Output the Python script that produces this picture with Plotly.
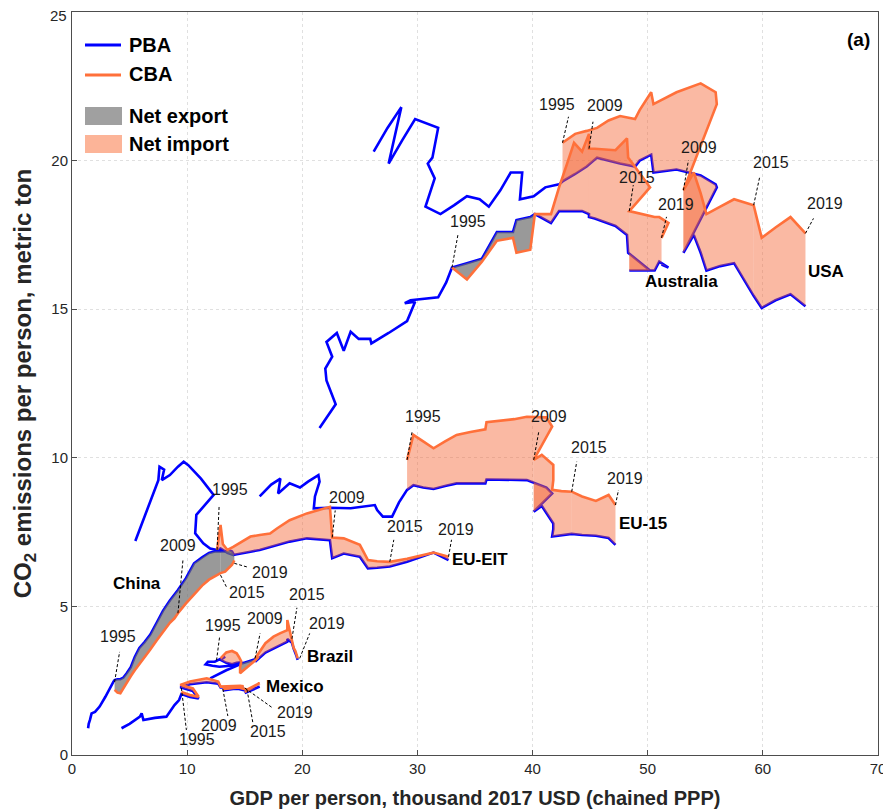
import plotly.graph_objects as go

YEARS = list(range(1995, 2020))

# ---------------- data (GDP thousand 2017 USD, CO2 t per person) ----------------
USA_GDP = [42.6, 43.7, 44.7, 45.6, 46.6, 47.6, 48.9, 49.3, 50.3, 50.5, 52.5, 54.6, 55.9, 56.0,
           53.1, 54.0, 54.6, 55.1, 56.3, 57.5, 59.2, 59.9, 61.1, 62.4, 63.7]
USA_PBA = [19.3, 19.55, 19.8, 20.1, 20.0, 19.9, 19.8, 20.0, 20.2, 19.6, 19.7, 19.5, 19.2, 19.1,
           16.9, 17.5, 16.9, 16.3, 16.45, 16.55, 15.45, 15.04, 15.3, 15.5, 15.1]
USA_CBA = [20.6, 20.9, 21.0, 21.1, 21.35, 21.5, 21.4, 21.7, 22.3, 21.9, 22.3, 22.6, 22.3, 21.9,
           19.0, 19.6, 18.9, 18.2, 18.45, 18.7, 18.5, 17.4, 17.75, 18.1, 17.55]
USA_HIST_GDP = [26.2, 27.4, 28.6, 27.5, 28.7, 29.8, 31.8, 31.3, 30.9, 31.5, 30.7, 32.0, 33.2, 34.3,
                35.4, 36.2, 37.2, 38.1, 39.1, 38.9, 40.1, 41.1, 42.3]
USA_HIST_PBA = [20.3, 21.1, 21.8, 19.9, 20.7, 21.4, 21.1, 20.1, 19.9, 19.4, 18.45, 18.2, 18.5, 18.8,
                18.7, 18.45, 19.0, 19.6, 19.6, 18.7, 18.8, 19.1, 19.2]

AUS_GDP = [33.0, 34.3, 35.6, 36.9, 38.3, 38.6, 39.8, 40.2, 41.6, 42.3, 43.0, 43.6, 44.3, 44.9,
           44.9, 45.4, 47.2, 48.2, 48.3, 50.2, 48.4, 50.6, 51.0, 51.8, 51.2]
AUS_PBA = [16.4, 16.55, 16.7, 17.6, 17.6, 18.0, 18.1, 18.2, 17.9, 18.3, 18.3, 18.3, 18.3, 18.2,
           18.1, 18.05, 17.8, 17.5, 16.9, 16.3, 16.3, 16.3, 16.6, 16.4, 16.5]
AUS_CBA = [16.4, 16.0, 16.6, 17.3, 17.4, 16.9, 17.0, 18.2, 18.2, 19.1, 19.9, 20.6, 20.3, 20.9,
           20.4, 20.4, 20.35, 20.75, 20.1, 19.1, 18.3, 18.1, 18.1, 17.9, 17.4]
AUS_HIST_GDP = [21.5, 22.9, 22.1, 22.0, 22.6, 22.1, 23.0, 23.6, 24.2, 24.9, 25.9, 26.0, 27.5, 29.1,
                29.8, 28.9, 29.4, 31.8, 32.5]
AUS_HIST_PBA = [11.0, 11.8, 12.6, 13.0, 13.4, 13.9, 14.2, 13.6, 14.24, 14.0, 14.0, 13.85, 14.2, 14.6,
                15.25, 15.2, 15.3, 15.4, 15.9]

EU15_GDP = [29.1, 29.65, 30.5, 31.4, 32.4, 33.4, 34.6, 35.9, 36.0, 37.2, 38.4, 39.5, 41.2, 41.7,
            40.1, 40.8, 41.8, 41.8, 41.7, 42.5, 43.4, 44.3, 45.5, 46.6, 47.2]
EU15_PBA = [8.92, 9.08, 9.0, 8.95, 9.05, 9.14, 9.14, 9.14, 9.27, 9.27, 9.26, 9.25, 9.0, 8.8,
            8.19, 8.38, 7.79, 7.6, 7.35, 7.4, 7.44, 7.4, 7.38, 7.3, 7.07]
EU15_CBA = [9.93, 10.77, 10.55, 10.32, 10.55, 10.77, 10.87, 10.96, 11.2, 11.25, 11.3, 11.38, 11.36, 11.05,
            9.93, 10.1, 9.76, 9.25, 8.92, 8.88, 8.86, 8.7, 8.55, 8.75, 8.41]
EU15_HIST_GDP = [16.3, 17.3, 18.1, 17.9, 18.9, 19.8, 20.5, 21.4, 21.5, 21.1, 21.0, 22.4, 24.2, 25.0,
                 26.3, 26.5, 27.0, 27.8, 28.4]
EU15_HIST_PBA = [8.7, 9.1, 9.3, 8.8, 9.14, 9.0, 9.2, 9.42, 9.2, 8.7, 8.3, 8.32, 8.3, 8.35,
                 8.41, 8.24, 8.02, 8.02, 8.5]

EIT_GDP = [12.6, 12.9, 13.1, 13.5, 14.0, 14.8, 15.5, 16.3, 17.2, 17.8, 18.9, 20.4, 21.4, 22.4,
           22.6, 23.6, 25.0, 25.7, 26.5, 27.2, 27.6, 29.1, 30.3, 31.4, 32.7]
EIT_PBA = [6.9, 6.95, 6.9, 6.8, 6.73, 6.8, 6.84, 6.9, 7.0, 7.07, 7.18, 7.29, 7.27, 7.23,
           6.62, 6.78, 6.67, 6.28, 6.3, 6.33, 6.34, 6.5, 6.65, 6.81, 6.56]
EIT_CBA = [6.9, 7.74, 7.1, 6.9, 7.0, 7.2, 7.35, 7.4, 7.45, 7.62, 7.9, 8.13, 8.25, 8.35,
           7.32, 7.29, 7.07, 6.56, 6.52, 6.5, 6.5, 6.6, 6.72, 6.81, 6.67]
EIT_HIST_GDP = [5.5, 6.0, 6.5, 7.1, 7.5, 7.6, 8.0, 7.8, 8.5, 9.2, 9.7, 10.1, 11.2, 12.3, 11.5,
                10.8, 10.7, 11.4, 12.0]
EIT_HIST_PBA = [7.2, 7.7, 8.2, 8.8, 9.25, 9.7, 9.6, 9.25, 9.42, 9.7, 9.87, 9.75, 9.3, 8.75, 8.4,
                8.08, 7.46, 7.12, 6.95]

CHN_GDP = [3.7, 3.95, 4.2, 4.45, 4.75, 5.1, 5.45, 5.85, 6.3, 6.8, 7.35, 7.9, 8.5, 8.9,
           9.2, 9.9, 10.6, 11.3, 11.9, 12.4, 12.9, 13.3, 13.6, 13.9, 14.1]
CHN_PBA = [2.52, 2.55, 2.55, 2.6, 2.75, 2.95, 3.3, 3.6, 3.8, 4.05, 4.45, 4.85, 5.2, 5.4,
           5.55, 5.95, 6.45, 6.65, 6.8, 6.85, 6.85, 6.85, 6.9, 6.85, 6.7]
CHN_CBA = [2.19, 2.1, 2.08, 2.25, 2.45, 2.65, 2.85, 3.05, 3.3, 3.55, 3.85, 4.15, 4.45, 4.6,
           4.77, 5.1, 5.4, 5.7, 5.9, 6.0, 6.12, 6.17, 6.3, 6.4, 6.55]
CHN_HIST_GDP = [1.4, 1.45, 1.56, 1.7, 2.0, 2.4, 2.9, 3.4, 3.6]
CHN_HIST_PBA = [0.9, 1.05, 1.18, 1.4, 1.45, 1.63, 1.96, 2.36, 2.47]

BRA_GDP = [12.9, 13.4, 13.9, 14.3, 14.5, 14.7, 14.6, 14.6, 14.9, 15.2, 15.4, 15.6, 15.9, 16.2,
           15.9, 16.8, 17.5, 18.1, 18.7, 18.7, 19.1, 19.25, 19.4, 19.5, 19.6]
BRA_PBA = [3.2, 3.1, 3.05, 3.1, 3.12, 3.12, 3.1, 3.08, 3.1, 3.13, 3.15, 3.18, 3.22, 3.28,
           3.14, 3.45, 3.58, 3.7, 3.81, 3.9, 3.78, 3.58, 3.45, 3.33, 3.2]
BRA_CBA = [3.25, 3.45, 3.5, 3.42, 3.3, 3.15, 2.95, 2.75, 2.85, 2.95, 3.0, 3.08, 3.18, 3.3,
           3.25, 3.76, 3.98, 4.1, 4.2, 4.54, 3.81, 3.6, 3.5, 3.38, 3.25]
BRA_HIST_GDP = [12.0, 12.6, 13.4, 14.0, 14.6, 14.2, 13.5, 12.8, 12.2, 11.6, 11.8, 12.4, 13.3]
BRA_HIST_PBA = [2.58, 2.7, 2.85, 2.95, 3.05, 3.02, 3.0, 2.97, 3.0, 3.05, 3.14, 3.14, 3.31]

MEX_GDP = [9.5, 10.25, 11.0, 10.5, 9.4, 10.25, 11.7, 12.7, 12.9, 13.6, 14.0, 14.6, 14.9, 14.3,
           13.1, 13.6, 14.0, 14.5, 14.8, 15.0, 15.2, 15.7, 16.1, 16.3, 15.0]
MEX_PBA = [2.05, 1.95, 1.9, 2.15, 2.28, 2.38, 2.45, 2.4, 2.27, 2.27, 2.28, 2.28, 2.27, 2.25,
           2.17, 2.2, 2.22, 2.22, 2.2, 2.18, 2.16, 2.22, 2.28, 2.3, 2.08]
MEX_CBA = [2.12, 2.02, 1.96, 2.24, 2.36, 2.47, 2.58, 2.47, 2.3, 2.3, 2.32, 2.33, 2.31, 2.28,
           2.22, 2.25, 2.27, 2.27, 2.24, 2.22, 2.2, 2.3, 2.38, 2.42, 2.12]
MEX_HIST_GDP = [4.3, 5.0, 5.9, 6.05, 6.2, 7.2, 8.2, 8.9, 9.3]
MEX_HIST_PBA = [0.9, 1.05, 1.29, 1.4, 1.18, 1.25, 1.29, 1.68, 1.85]

X_TICKS = [0, 10, 20, 30, 40, 50, 60, 70]
Y_TICKS = [0, 5, 10, 15, 20, 25]

COUNTRIES = {
    "USA": (USA_GDP, USA_PBA, USA_CBA, USA_HIST_GDP, USA_HIST_PBA),
    "Australia": (AUS_GDP, AUS_PBA, AUS_CBA, AUS_HIST_GDP, AUS_HIST_PBA),
    "EU-15": (EU15_GDP, EU15_PBA, EU15_CBA, EU15_HIST_GDP, EU15_HIST_PBA),
    "EU-EIT": (EIT_GDP, EIT_PBA, EIT_CBA, EIT_HIST_GDP, EIT_HIST_PBA),
    "China": (CHN_GDP, CHN_PBA, CHN_CBA, CHN_HIST_GDP, CHN_HIST_PBA),
    "Brazil": (BRA_GDP, BRA_PBA, BRA_CBA, BRA_HIST_GDP, BRA_HIST_PBA),
    "Mexico": (MEX_GDP, MEX_PBA, MEX_CBA, MEX_HIST_GDP, MEX_HIST_PBA),
}

LABEL_YEARS = [1995, 2009, 2015, 2019]
# per country, per labelled year: (text dx, text dy, pointer start dx, dy, pointer end dx, dy) in pixels, y down
LABEL_OFFSETS = {
    "USA": {1995: (-6, -38, 6, -26, 0, 0), 2009: (16, -43, 5, -30, 0, 0),
            2015: (17, -43, 6, -28, 0, 0), 2019: (20, -30, 8, -15, 0, 0)},
    "Australia": {1995: (16, -46, 6, -33, 0, 0), 2009: (16, -43, 4, -27, 0, 0),
                  2015: (8, -34, 4, -26, 0, 0), 2019: (14, -33, 5, -21, 0, 0)},
    "EU-15": {1995: (16, -43, 5, -28, 0, 0), 2009: (15, -43, 5, -28, 0, 0),
              2015: (17, -44, 5, -30, 0, 0), 2019: (10, -27, 3, -15, 0, 0)},
    "EU-EIT": {1995: (13, -60, 2, -43, 0, 0), 2009: (15, -40, 3, -27, 0, 0),
               2015: (15, -35, 4, -22, 0, 0), 2019: (7, -27, 3, -17, 0, 0)},
    "China": {1995: (3, -53, 5, -38, 0, -8), 2009: (0, -68, 5, -53, 0, 0),
              2015: (26, 19, 6, 14, 0, 2), 2019: (36, 12, 14, 7, 0, 3)},
    "Brazil": {1995: (2, -33, -1, -21, -4, 2), 2009: (10, -40, 5, -25, 0, 0),
               2015: (15, -47, 5, -34, 0, -3), 2019: (29, -35, 12, -25, 2, 0)},
    "Mexico": {1995: (16, 48, 5, 38, 0, -4), 2009: (-4, 36, 5, 27, 0, 0),
               2015: (21, 42, 6, 34, 0, 0), 2019: (50, 21, 28, 16, 0, -4)},
}
# country name label positions relative to the 2019 CBA point (pixels, y down)
NAME_OFFSETS = {"USA": (21, 38), "Australia": (20, 44), "EU-15": (28, 18), "EU-EIT": (31, 3),
                "China": (-97, 23), "Brazil": (32, -2), "Mexico": (50, -5)}

BLUE = "rgb(0,0,255)"
ORANGE = "rgb(255,112,58)"
IMPORT_FILL = "rgba(245,100,50,0.45)"
EXPORT_FILL = "rgba(110,110,110,0.7)"
FONT = "Liberation Sans, Arial, sans-serif"

fig = go.Figure()

# PBA lines (history + 1995-2019)
for name, (gdp, pba, cba, hg, hp) in COUNTRIES.items():
    fig.add_trace(go.Scatter(x=hg + gdp, y=hp + pba, mode="lines",
                             line=dict(color=BLUE, width=2.6), hoverinfo="skip", showlegend=False))

# fills between PBA and CBA, split at 2009/2015 and at sign changes
breaks = {YEARS.index(2009), YEARS.index(2015)}
for name, (gdp, pba, cba, hg, hp) in COUNTRIES.items():
    n = len(gdp)
    signs = [1 if (cba[i] + cba[i + 1]) >= (pba[i] + pba[i + 1]) else -1 for i in range(n - 1)]
    segs = []
    a = 0
    for i in range(1, n - 1):
        if i in breaks or signs[i] != signs[a]:
            segs.append((a, i - 1))
            a = i
    segs.append((a, n - 2))
    for a, b in segs:
        idx = list(range(a, b + 2))
        xs = [gdp[k] for k in idx] + [gdp[k] for k in reversed(idx)]
        ys = [pba[k] for k in idx] + [cba[k] for k in reversed(idx)]
        fig.add_trace(go.Scatter(x=xs, y=ys, mode="lines", fill="toself",
                                 fillcolor=IMPORT_FILL if signs[a] > 0 else EXPORT_FILL,
                                 line=dict(width=0), hoverinfo="skip", showlegend=False))

# CBA lines
for name, (gdp, pba, cba, hg, hp) in COUNTRIES.items():
    fig.add_trace(go.Scatter(x=gdp, y=cba, mode="lines",
                             line=dict(color=ORANGE, width=2.6), hoverinfo="skip", showlegend=False))

shapes = []
annotations = []
LBL_FONT = dict(family=FONT, size=16, color="#1a1a1a")
for name, (gdp, pba, cba, hg, hp) in COUNTRIES.items():
    for yr in LABEL_YEARS:
        k = YEARS.index(yr)
        tdx, tdy, sdx, sdy, edx, edy = LABEL_OFFSETS[name][yr]
        shapes.append(dict(type="line", xref="x", yref="y", xsizemode="pixel", ysizemode="pixel",
                           xanchor=gdp[k], yanchor=cba[k], x0=edx, y0=-edy, x1=sdx, y1=-sdy,
                           line=dict(color="black", width=1, dash="3px,2px")))
        annotations.append(dict(x=gdp[k], y=cba[k], xref="x", yref="y", text=str(yr),
                                showarrow=False, xshift=tdx, yshift=-tdy, font=LBL_FONT))
    ndx, ndy = NAME_OFFSETS[name]
    annotations.append(dict(x=gdp[-1], y=cba[-1], xref="x", yref="y", text="<b>%s</b>" % name,
                            showarrow=False, xshift=ndx, yshift=-ndy,
                            font=dict(family=FONT, size=17, color="black")))

# page is shown with an 8px body margin, so the figure is shifted by 8px
OFF = 8
W, H = 891 - OFF, 812 - OFF
# plot area in screen pixels: x 72..878, y 12..755
SL, SR, ST, SB = 72, 878, 12, 755
ML, MT = SL - OFF, ST - OFF
MR, MB = W - (SR - OFF), H - (SB - OFF)
def pxx(px):
    return (px - SL) / (SR - SL)
def pxy(py):
    return (SB - py) / (SB - ST)

shapes += [
    dict(type="line", xref="paper", yref="paper", x0=pxx(85), x1=pxx(121), y0=pxy(45), y1=pxy(45),
         line=dict(color=BLUE, width=3)),
    dict(type="line", xref="paper", yref="paper", x0=pxx(85), x1=pxx(121), y0=pxy(75), y1=pxy(75),
         line=dict(color=ORANGE, width=3)),
    dict(type="rect", xref="paper", yref="paper", x0=pxx(85), x1=pxx(122), y0=pxy(125), y1=pxy(107),
         fillcolor="rgb(160,160,160)", line=dict(width=0)),
    dict(type="rect", xref="paper", yref="paper", x0=pxx(85), x1=pxx(122), y0=pxy(153), y1=pxy(135),
         fillcolor="rgb(252,180,152)", line=dict(width=0)),
]
LEG_FONT = dict(family=FONT, size=20, color="black")
for txt, py in [("PBA", 45), ("CBA", 74), ("Net export", 116), ("Net import", 144)]:
    annotations.append(dict(x=pxx(127), y=pxy(py), xref="paper", yref="paper", text="<b>%s</b>" % txt,
                            showarrow=False, xanchor="left", yanchor="middle", font=LEG_FONT))
annotations.append(dict(x=pxx(872), y=pxy(40), xref="paper", yref="paper", text="<b>(a)</b>",
                        showarrow=False, xanchor="right", yanchor="middle",
                        font=dict(family=FONT, size=19, color="black")))

TICK_FONT = dict(family=FONT, size=15, color="#262626")
# top y tick label: drawn as an annotation nudged down so it stays inside the page
annotations.append(dict(x=X_TICKS[0], y=Y_TICKS[-1], xref="x", yref="y", text=str(Y_TICKS[-1]),
                        showarrow=False, xanchor="right", yanchor="middle", xshift=-3, yshift=-3,
                        font=TICK_FONT))

AX = dict(showline=True, linecolor="#4d4d4d", linewidth=1, mirror=True, ticks="inside", ticklen=5,
          tickcolor="#4d4d4d", showgrid=True, gridcolor="#e0e0e0", griddash="dot", gridwidth=1,
          zeroline=False, automargin=False, ticklabeloverflow="allow", tickfont=TICK_FONT)

fig.update_layout(
    width=W, height=H, margin=dict(l=ML, r=MR, t=MT, b=MB, pad=0),
    plot_bgcolor="white", paper_bgcolor="white", showlegend=False,
    shapes=shapes, annotations=annotations,
    xaxis=dict(range=[X_TICKS[0], X_TICKS[-1]], tickvals=X_TICKS,
               title=dict(text="<b>GDP per person, thousand 2017 USD (chained PPP)</b>", standoff=14,
                          font=dict(family=FONT, size=20, color="#262626")),
               **AX),
    yaxis=dict(range=[Y_TICKS[0], Y_TICKS[-1]], tickvals=Y_TICKS,
               ticktext=[str(v) for v in Y_TICKS[:-1]] + [""],
               title=dict(text="<b>CO<sub>2</sub> emissions per person, metric ton</b>", standoff=12,
                          font=dict(family=FONT, size=24, color="#262626")),
               **AX),
)

fig.write_html("out.html")
